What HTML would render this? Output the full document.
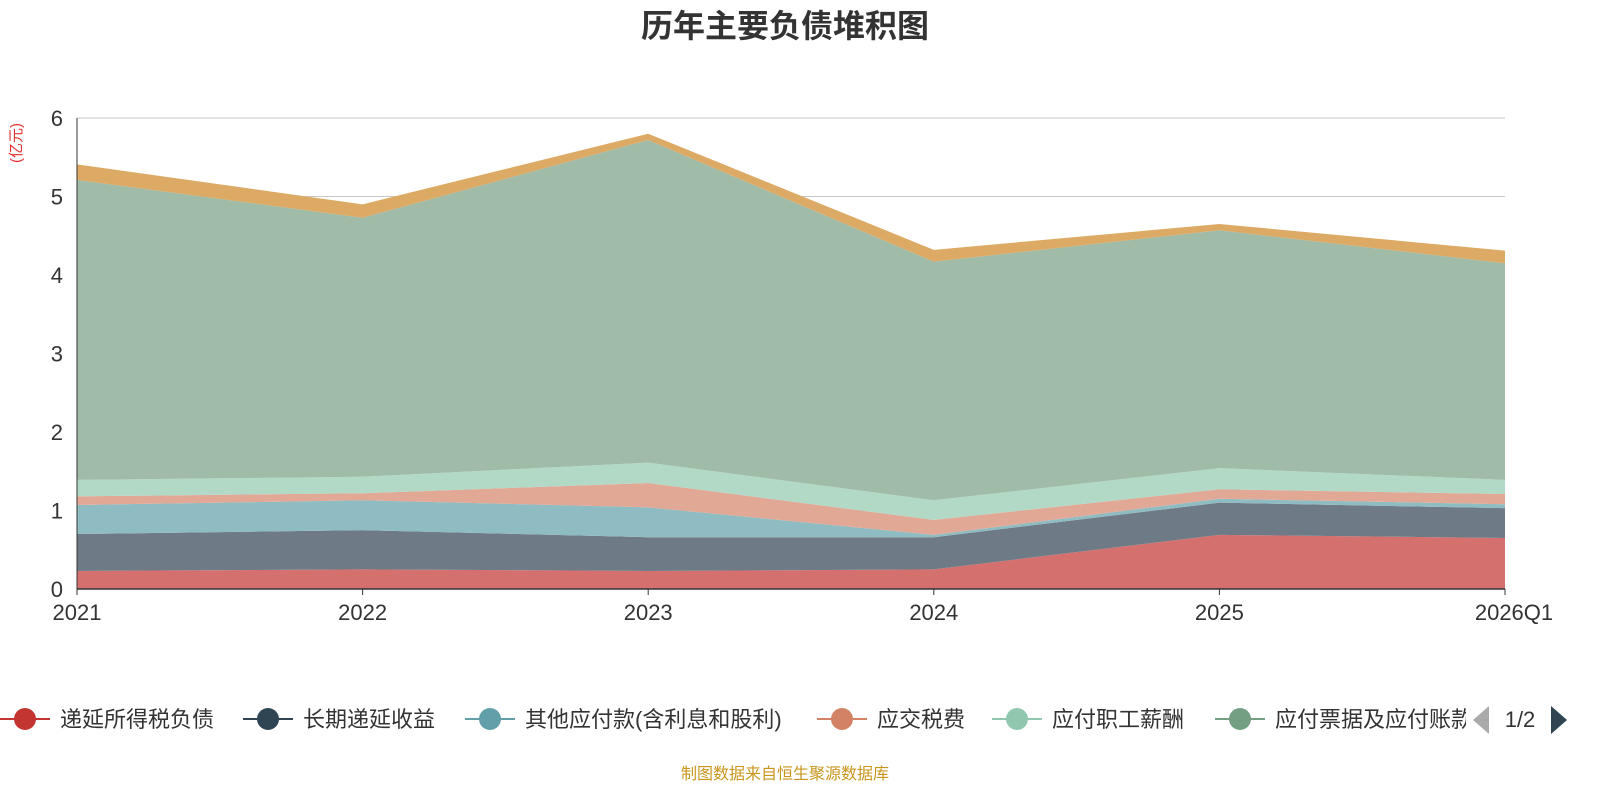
<!DOCTYPE html>
<html><head><meta charset="utf-8">
<style>
html,body{margin:0;padding:0;background:#fff;}
body{width:1600px;height:800px;overflow:hidden;font-family:"Liberation Sans","Noto Sans CJK SC",sans-serif;}
</style></head>
<body>
<svg id="chart" width="1600" height="800" xmlns="http://www.w3.org/2000/svg">
<text x="785" y="37" text-anchor="middle" font-size="32" font-weight="bold" fill="#333">历年主要负债堆积图</text>
<text transform="translate(21,143) rotate(-90)" text-anchor="middle" font-size="15" fill="#e03030">(亿元)</text>
<g id="grid"></g>
<g id="areas"></g>
<g id="axes"></g>
<g id="legend"></g>
<text x="785" y="779" text-anchor="middle" font-size="16" fill="#c8961e">制图数据来自恒生聚源数据库</text>
</svg>
<script>
const categories = ["2021","2022","2023","2024","2025","2026Q1"];
const seriesNames = ["递延所得税负债","长期递延收益","其他应付款(含利息和股利)","应交税费","应付职工薪酬","应付票据及应付账款","其他"];
const s1 = [0.23,0.25,0.23,0.25,0.69,0.65];
const s2 = [0.47,0.50,0.43,0.41,0.41,0.38];
const s3 = [0.37,0.38,0.38,0.03,0.05,0.05];
const s4 = [0.11,0.09,0.31,0.19,0.12,0.13];
const s5 = [0.21,0.21,0.26,0.25,0.27,0.18];
const s6 = [3.82,3.30,4.11,3.04,3.03,2.76];
const s7 = [0.20,0.17,0.08,0.15,0.08,0.16];
const yTicks = [0,1,2,3,4,5,6];

const NS="http://www.w3.org/2000/svg";
const fills=["#d4706e","#6e7b87","#8fbcc2","#e2a896","#b2d8c6","#a0bba8","#dcaa64"];
const lineCols=["#c23531","#2f4554","#61a0a8","#d48265","#91c7ae","#749f83","#ca8622"];
const x0=77,x1=1505,y0=589,y6=118;
const xs=i=>x0+(x1-x0)*i/(categories.length-1);
const ys=v=>y0-(y0-y6)*v/6;
function mk(tag,attrs,parent){const e=document.createElementNS(NS,tag);for(const k in attrs)e.setAttribute(k,attrs[k]);parent.appendChild(e);return e;}
const grid=document.getElementById('grid'),areas=document.getElementById('areas'),axes=document.getElementById('axes'),legend=document.getElementById('legend');
yTicks.forEach(t=>{
 if(t>0){const l=mk('line',{x1:x0,x2:x1,y1:ys(t),y2:ys(t),stroke:'#c8c8c8','stroke-width':1},grid);
 
 }
 const tx=mk('text',{x:x0-14,y:ys(t)+8,'text-anchor':'end','font-size':22,fill:'#333'},axes);tx.textContent=t;
 
 
});
const all=[s1,s2,s3,s4,s5,s6,s7];
let base=categories.map(()=>0);
all.forEach((s,k)=>{
 const top=base.map((b,i)=>b+s[i]);
 let d='M'+top.map((v,i)=>xs(i)+','+ys(v)).join('L');
 for(let i=categories.length-1;i>=0;i--)d+='L'+xs(i)+','+ys(base[i]);
 d+='Z';
 const p=mk('path',{d:d,fill:fills[k],stroke:'none'},areas);
 
 
 base=top;
});
const ax=mk('line',{x1:x0,x2:x1,y1:y0,y2:y0,stroke:'#333','stroke-width':1.5},axes);


const ay=mk('line',{x1:x0,x2:x0,y1:y6,y2:y0,stroke:'#333','stroke-width':1},axes);


categories.forEach((c,i)=>{
 const tk=mk('line',{x1:xs(i),x2:xs(i),y1:y0,y2:y0+6,stroke:'#333'},axes);
 
 
 const off=i===categories.length-1?9:0;
 const t=mk('text',{x:xs(i)+off,y:620,'text-anchor':'middle','font-size':22,fill:'#333'},axes);t.textContent=c;
 
 
});
const legX=[25,268,490,842,1017,1240];
legX.forEach((cx,k)=>{
 const g=mk('g',{},legend);
 
 
 mk('line',{x1:cx-25,x2:cx+25,y1:719,y2:719,stroke:lineCols[k],'stroke-width':2},g);
 mk('circle',{cx:cx,cy:719,r:11,fill:lineCols[k]},g);
 const t=mk('text',{x:cx+35,y:727,'font-size':22,fill:'#333'},g);t.textContent=seriesNames[k];
});
const clip=mk('rect',{x:1466,y:698,width:134,height:44,fill:'#fff'},legend);
const pl=mk('path',{d:'M1489,706 L1473,720 L1489,734 Z',fill:'#aaa'},legend);


const pt=mk('text',{x:1520,y:727,'text-anchor':'middle','font-size':22,fill:'#333'},legend);pt.textContent='1/2';


const pn=mk('path',{d:'M1551,706 L1567,720 L1551,734 Z',fill:'#2f4554'},legend);


</script>
</body></html>
